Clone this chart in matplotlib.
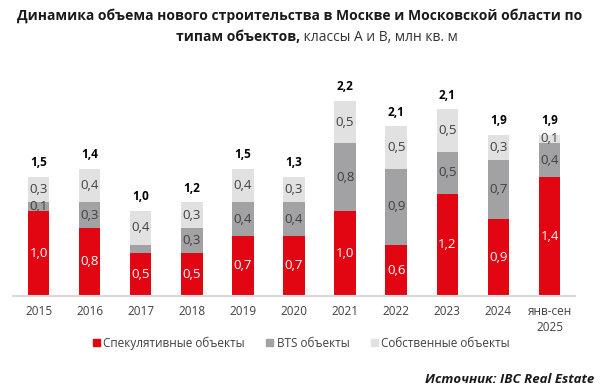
import numpy as np
import matplotlib.pyplot as plt
from matplotlib.patches import Patch

# Данные: объем нового строительства, млн кв. м
anios = ['2015', '2016', '2017', '2018', '2019', '2020',
         '2021', '2022', '2023', '2024', 'янв-сен\n2025']
spekul = [1.0, 0.8, 0.5, 0.5, 0.7, 0.7, 1.0, 0.6, 1.2, 0.9, 1.4]
bts = [0.1, 0.3, 0.1, 0.3, 0.4, 0.4, 0.8, 0.9, 0.5, 0.7, 0.4]
sobstv = [0.3, 0.4, 0.4, 0.3, 0.4, 0.3, 0.5, 0.5, 0.5, 0.3, 0.1]
itogo = [1.5, 1.4, 1.0, 1.2, 1.5, 1.3, 2.2, 2.1, 2.1, 1.9, 1.9]
bts_mostrar = [True, True, False, True, True, True, True, True, True, True, True]

rojo = '#e20613'
gris = '#a2a2a5'
gris_claro = '#e1e1e1'

plt.rcParams['font.family'] = ['Open Sans', 'DejaVu Sans']

fig = plt.figure(figsize=(6, 3.9), dpi=100)
ax = fig.add_axes([0.0217, 0.2423, 0.9367, 0.5641])

x = np.arange(len(anios))
ancho = 0.42
s = np.array(spekul)
b = np.array(bts)
o = np.array(sobstv)

ax.bar(x, s, ancho, color=rojo)
ax.bar(x, b, ancho, bottom=s, color=gris)
ax.bar(x, o, ancho, bottom=s + b, color=gris_claro)

def fmt(v):
    return f'{v:.1f}'.replace('.', ',')

for i in range(len(x)):
    ax.text(x[i], s[i] / 2, fmt(s[i]), ha='center', va='center',
            color='white', fontsize=9.5)
    if bts_mostrar[i]:
        ax.text(x[i], s[i] + b[i] / 2, fmt(b[i]), ha='center', va='center',
                color='#404040', fontsize=9.5)
    ax.text(x[i], s[i] + b[i] + o[i] / 2, fmt(o[i]), ha='center', va='center',
            color='#404040', fontsize=9.5)
    ax.text(x[i], s[i] + b[i] + o[i] + 0.09, fmt(itogo[i]), ha='center',
            va='bottom', color='black', fontsize=8.5, fontweight='bold')

ax.set_xlim(-0.5, 10.5)
ax.set_ylim(0, 2.6)
ax.set_xticks(x)
ax.set_xticklabels(anios, fontsize=8.5, color='#404040', linespacing=1.3)
ax.tick_params(axis='x', length=0, pad=7)
ax.set_yticks([])
for lado in ['top', 'right', 'left']:
    ax.spines[lado].set_visible(False)
ax.spines['bottom'].set_color('#d9d9d9')
ax.spines['bottom'].set_linewidth(1.5)

# Leyenda
handles = [Patch(color=rojo, label='Спекулятивные объекты'),
           Patch(color=gris, label='BTS объекты'),
           Patch(color=gris_claro, label='Собственные объекты')]
fig.legend(handles=handles, loc='center', bbox_to_anchor=(0.502, 0.12),
           ncol=3, frameon=False, fontsize=8.5, handlelength=0.6,
           handleheight=0.6, handletextpad=0.3, columnspacing=1.8,
           labelcolor='#404040')

# Título
fig.text(0.5, 0.96, 'Динамика объема нового строительства в Москве и Московской области по',
         ha='center', va='center', fontsize=10, fontweight='bold', color='#1a1a1a')
fig.text(0.5, 0.905, 'типам объектов,', ha='right', va='center',
         fontsize=10, fontweight='bold', color='#1a1a1a')
fig.text(0.5, 0.905, ' классы А и В, млн кв. м', ha='left', va='center',
         fontsize=10, color='#333333')

fig.text(0.99, 0.026, 'Источник: IBC Real Estate', ha='right', va='center',
         fontsize=9.5, fontweight='bold', style='italic', color='#1a1a1a')

fig.savefig('out.png', dpi=100)
